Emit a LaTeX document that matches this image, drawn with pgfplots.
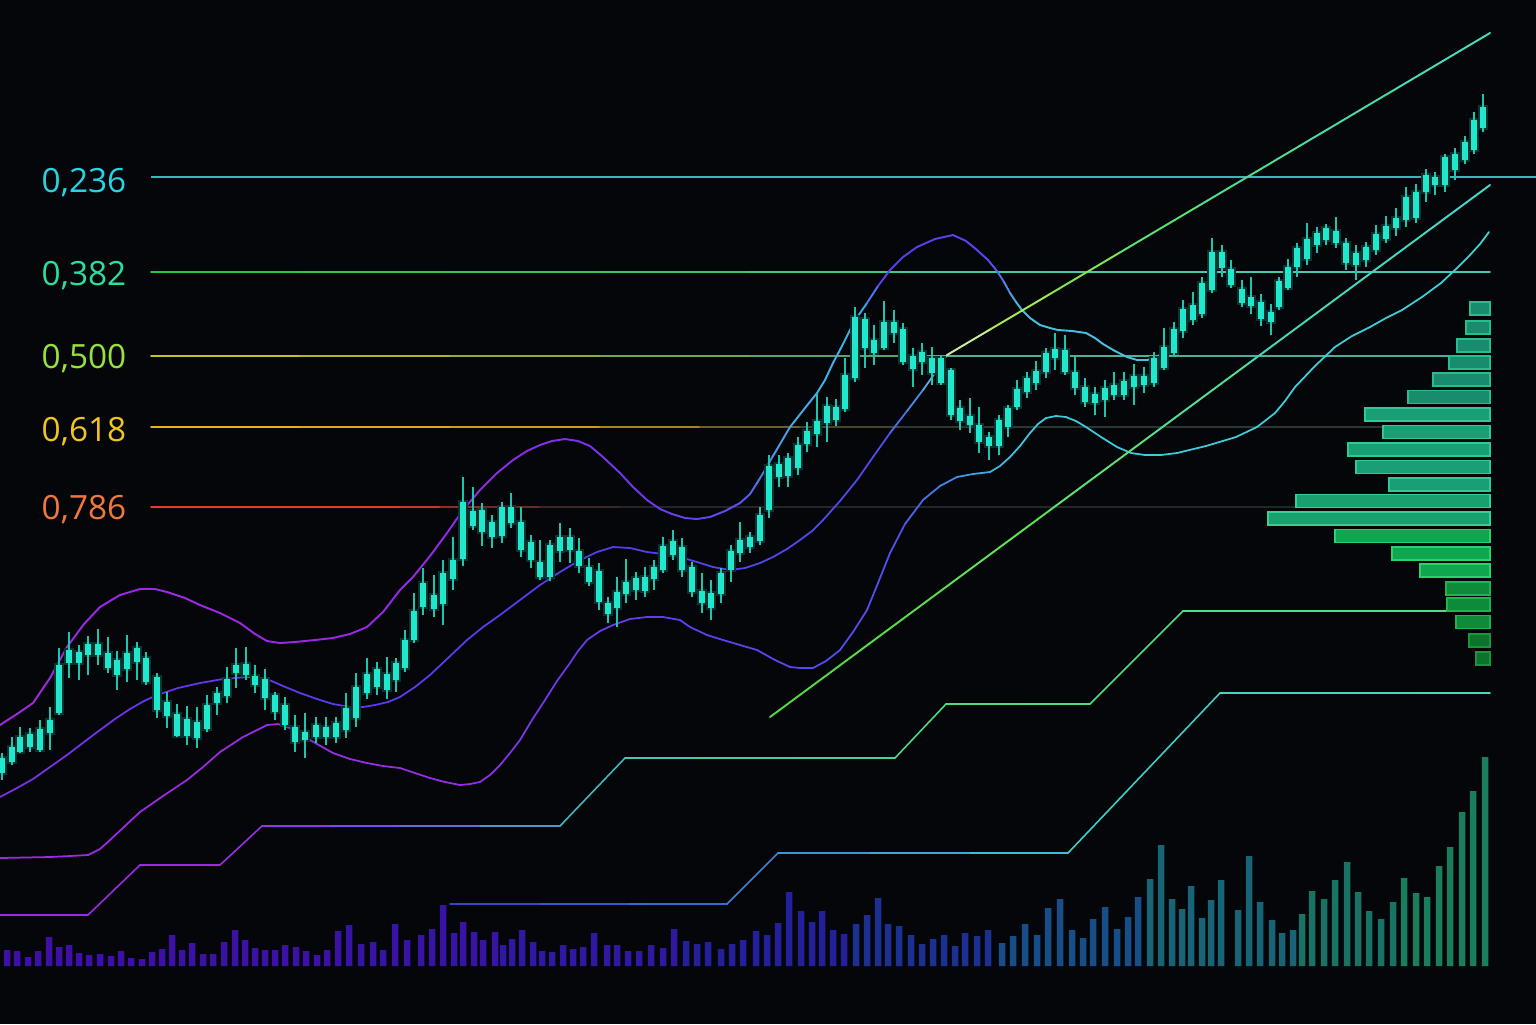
\documentclass[border=0pt]{standalone}
\usepackage{fontspec}
\setmainfont{Open Sans}
\usepackage{pgfplots}
\usepackage{pgfplotstable}
\pgfplotsset{compat=1.18}

\definecolor{bg}{RGB}{4,6,9}
\definecolor{candle}{RGB}{32,232,205}
\definecolor{l236}{RGB}{40,210,230}
\definecolor{l382}{RGB}{40,222,160}
\definecolor{l500}{RGB}{150,225,60}
\definecolor{l618}{RGB}{240,195,30}
\definecolor{l786}{RGB}{240,120,60}

% colour ramps along x (pixel columns 0..1536)
\pgfplotsset{
  colormap={upperband}{rgb255(0pt)=(160,40,225) rgb255(450pt)=(150,40,230) rgb255(650pt)=(110,55,235) rgb255(740pt)=(90,80,240) rgb255(790pt)=(70,170,230) rgb255(860pt)=(60,180,230) rgb255(885pt)=(85,60,240) rgb255(990pt)=(85,70,240) rgb255(1020pt)=(70,190,225) rgb255(1536pt)=(70,210,215)},
  colormap={midband}{rgb255(0pt)=(130,45,230) rgb255(200pt)=(100,55,240) rgb255(600pt)=(85,60,240) rgb255(880pt)=(80,75,240) rgb255(920pt)=(70,150,235) rgb255(947pt)=(130,210,230) rgb255(1536pt)=(130,210,230)},
  colormap={lowerband}{rgb255(0pt)=(160,40,225) rgb255(460pt)=(150,45,230) rgb255(560pt)=(110,55,235) rgb255(700pt)=(90,65,240) rgb255(900pt)=(80,80,240) rgb255(970pt)=(60,160,230) rgb255(1020pt)=(60,200,225) rgb255(1536pt)=(60,210,210)},
  colormap={uptrend}{rgb255(0pt)=(220,240,200) rgb255(947pt)=(220,240,200) rgb255(1000pt)=(180,235,90) rgb255(1060pt)=(150,230,70) rgb255(1150pt)=(90,225,110) rgb255(1300pt)=(70,220,160) rgb255(1536pt)=(70,220,200)},
  colormap={lowtrend}{rgb255(0pt)=(80,215,60) rgb255(770pt)=(80,215,60) rgb255(1000pt)=(95,225,85) rgb255(1150pt)=(90,225,130) rgb255(1300pt)=(70,215,180) rgb255(1536pt)=(70,215,210)},
  colormap={stepa}{rgb255(0pt)=(160,40,225) rgb255(262pt)=(150,45,230) rgb255(400pt)=(110,90,230) rgb255(560pt)=(60,170,215) rgb255(625pt)=(60,200,180) rgb255(895pt)=(70,215,150) rgb255(946pt)=(80,220,120) rgb255(1536pt)=(90,220,130)},
  colormap={stepb}{rgb255(0pt)=(50,60,200) rgb255(450pt)=(50,60,200) rgb255(727pt)=(50,120,215) rgb255(778pt)=(55,140,220) rgb255(1068pt)=(60,200,215) rgb255(1220pt)=(60,215,190) rgb255(1536pt)=(70,220,180)},
  colormap={fibb}{rgb255(0pt)=(35,200,55) rgb255(151pt)=(35,200,55) rgb255(700pt)=(55,200,100) rgb255(950pt)=(70,200,160) rgb255(1536pt)=(70,200,190)},
  colormap={fibc}{rgb255(0pt)=(210,200,40) rgb255(151pt)=(210,200,40) rgb255(450pt)=(160,175,50) rgb255(800pt)=(90,160,100) rgb255(950pt)=(85,175,150) rgb255(1536pt)=(80,170,160)},
  colormap={fibd}{rgb255(0pt)=(235,185,30) rgb255(151pt)=(235,185,30) rgb255(600pt)=(200,150,40) rgb255(800pt)=(80,75,40) rgb255(1000pt)=(40,55,48) rgb255(1536pt)=(40,55,48)},
  colormap={fibe}{rgb255(0pt)=(225,60,50) rgb255(400pt)=(225,60,50) rgb255(470pt)=(120,50,40) rgb255(620pt)=(35,38,38) rgb255(1536pt)=(32,38,38)},
  chartbox/.style={width=15.36cm, height=10.24cm, scale only axis,
    xmin=0, xmax=1536, axis line style={draw=none}, ticks=none, clip=true},
  ramp/.style={mesh, point meta=x, colormap name=#1, line cap=round, line join=round},
  candlebar/.style 2 args={draw=none, mark=none, forget plot,
    error bars/.cd, y dir=both, y explicit, error mark=none,
    error bar style={draw=#1, line width=#2}},
}

% candles: x, body top, body bottom, wick top, wick bottom (pixel rows)
\pgfplotstableread{
x bt bb wt wb
2 758 773 753 780
12 747 762 737 765
20 737 752 727 753
30 734 747 728 752
40 729 750 720 752
50 720 733 707 750
59 665 713 648 715
69 650 663 632 678
79 652 663 645 680
88 644 655 636 675
98 644 655 629 665
108 653 668 637 673
117 660 675 651 690
127 653 669 635 682
137 648 662 642 680
146 658 682 652 685
157 677 710 673 718
167 702 716 692 728
177 714 736 704 737
187 719 736 706 745
197 722 738 707 748
207 705 729 695 732
217 693 703 687 715
227 679 696 667 703
236 665 673 648 688
246 664 675 647 680
255 676 685 665 693
265 679 698 669 710
275 695 712 692 720
285 705 725 697 730
295 727 742 715 752
305 732 740 713 758
316 725 737 717 743
326 727 737 717 745
336 723 737 717 743
346 708 730 693 738
356 687 718 673 727
367 674 693 658 699
377 669 687 662 695
387 674 690 657 699
396 663 680 658 692
405 640 668 630 672
414 611 640 593 643
423 583 607 568 615
434 595 609 575 617
443 573 604 560 625
453 560 579 537 590
463 502 559 477 566
473 511 526 487 530
482 510 532 503 546
492 522 537 515 548
502 507 536 502 543
511 507 523 493 528
521 522 550 507 557
531 542 560 535 568
540 562 577 540 580
550 545 577 540 581
560 537 551 523 562
570 537 550 528 563
579 551 566 538 573
589 567 582 558 586
599 571 602 563 610
608 603 614 597 623
617 592 608 577 627
626 582 594 559 603
636 578 590 572 600
645 577 591 567 597
654 567 579 560 590
663 546 570 537 573
673 541 555 530 560
682 547 570 538 577
692 567 592 562 597
702 591 603 573 613
711 593 608 580 620
721 573 594 568 603
731 551 570 545 582
740 540 553 522 562
750 537 547 532 553
760 515 541 507 545
769 466 510 455 518
779 464 477 455 487
788 458 476 453 487
798 445 468 437 475
807 431 444 422 452
817 421 434 393 447
827 406 423 397 442
836 407 420 399 426
845 375 409 358 412
855 317 378 307 382
865 319 348 313 368
874 340 353 325 365
884 322 348 301 350
894 322 333 310 343
903 329 362 323 365
913 356 369 348 387
922 352 362 343 375
932 358 373 347 385
941 358 383 355 385
951 370 415 368 420
960 408 421 400 430
970 416 425 398 433
979 425 442 407 453
989 437 446 432 460
999 420 446 415 455
1008 408 427 405 437
1017 389 407 380 410
1027 378 392 372 398
1036 371 383 361 390
1046 353 372 348 378
1055 349 358 333 370
1065 350 372 335 375
1075 372 388 357 395
1085 387 402 378 407
1095 394 403 387 415
1105 388 400 380 417
1114 385 395 372 400
1124 381 395 372 400
1134 376 387 364 405
1144 376 385 367 393
1154 358 383 352 387
1164 347 368 328 370
1174 329 353 322 357
1183 309 331 300 338
1193 305 320 292 325
1202 283 314 277 318
1212 252 290 238 293
1222 252 268 245 277
1231 269 285 260 288
1242 289 303 280 307
1251 297 306 277 314
1261 302 319 294 326
1271 312 322 304 335
1279 281 307 277 310
1288 267 288 259 290
1297 248 267 243 277
1307 239 259 223 265
1317 233 245 227 253
1326 228 240 224 245
1336 231 243 217 248
1346 243 263 238 270
1356 253 265 245 280
1366 247 260 242 267
1376 234 250 225 255
1386 226 239 216 243
1396 218 228 208 236
1406 197 220 187 227
1416 192 218 184 223
1426 175 192 169 202
1435 177 185 172 195
1445 157 185 154 192
1455 154 170 148 180
1465 142 160 136 164
1474 120 150 112 154
1483 107 128 94 132
}\candles

% volume bars: x, height above the base line (pixels)
\pgfplotstableread{
x h
7 16
17 15
28 9
38 15
49 29
59 19
69 21
79 13
89 11
100 12
111 10
121 15
131 8
142 7
152 14
162 17
172 31
182 16
192 23
203 12
213 12
224 24
235 36
245 26
255 18
265 16
275 16
285 21
296 19
306 15
317 11
327 16
338 35
349 41
361 22
373 24
383 16
395 42
407 26
421 31
432 37
443 61
454 33
463 44
474 34
483 26
495 34
503 21
512 27
522 36
533 24
542 15
552 14
563 21
573 17
583 19
594 33
607 21
617 21
628 15
639 15
651 21
663 18
674 37
686 25
697 22
708 24
721 17
732 22
743 26
756 35
767 31
778 43
789 74
801 55
812 44
822 55
833 36
844 32
856 42
867 51
878 68
888 42
899 40
911 31
922 22
933 27
944 31
955 20
965 33
977 30
988 36
1002 23
1013 30
1025 42
1037 31
1048 58
1060 67
1072 36
1083 28
1093 47
1105 59
1117 37
1128 49
1138 69
1150 87
1161 121
1172 67
1182 57
1191 80
1202 48
1211 66
1221 86
1238 56
1249 110
1260 64
1272 46
1282 33
1293 36
1302 52
1312 75
1324 67
1335 86
1347 104
1358 74
1369 55
1381 47
1393 64
1404 88
1416 73
1427 69
1439 100
1450 119
1462 154
1473 175
1485 209
}\volume

% volume profile: bar length (pixels, leftwards from x=1490), row centre
\pgfplotstableread{
len y
20 308.5
24 327.5
33 345.5
41 362.5
57 379.5
82 397
125 414.5
107 432
142 449.5
134 467
101 484.5
194 501
222 518.5
155 536
98 553.5
70 570.5
44 588.5
43 604.5
34 622
21 640.5
14 658.5
}\profile

\begin{document}
\begin{tikzpicture}
% ---------- price panel ----------
\begin{axis}[chartbox, ymin=0, ymax=1024, y dir=reverse,
  axis background/.style={fill=bg},
  point meta min=0, point meta max=1536]

% fibonacci levels
\addplot[color={rgb,255:red,55;green,185;blue,185}, line width=0.4pt] coordinates {(151,177) (1536,177)};
\addplot[ramp=fibb, line width=0.5pt] coordinates {(151,272) (300,272) (450,272) (600,272) (750,272) (900,272) (1050,272) (1200,272) (1350,272) (1490,272)};
\addplot[ramp=fibc, line width=0.45pt] coordinates {(151,356) (300,356) (450,356) (600,356) (750,356) (900,356) (1050,356) (1200,356) (1350,356) (1490,356)};
\addplot[ramp=fibd, line width=0.5pt] coordinates {(151,427) (300,427) (450,427) (600,427) (700,427) (800,427) (900,427) (1050,427) (1200,427) (1490,427)};
\addplot[ramp=fibe, line width=0.55pt] coordinates {(151,507) (300,507) (400,507) (440,507) (480,507) (540,507) (620,507) (900,507) (1200,507) (1490,507)};

% stepped levels
\addplot[ramp=stepa, line width=0.45pt] coordinates {(0,915) (88,915) (140,865) (220,865) (262,826) (330,826) (400,826) (480,826) (560,826) (625,758) (700,758) (800,758) (895,758) (946,704) (1020,704) (1090,704) (1183,611) (1280,611) (1380,611) (1490,611)};
\addplot[ramp=stepb, line width=0.45pt] coordinates {(450,904) (540,904) (630,904) (727,904) (778,853) (870,853) (970,853) (1068,853) (1220,693) (1320,693) (1420,693) (1490,693)};

% bands
\addplot[ramp=upperband, line width=0.55pt] coordinates {(0,725) (17,714) (33,703) (50,678) (67,647) (84,624) (100,607) (120,595) (140,589) (155,589) (167,592) (185,598) (200,605) (220,613) (240,623) (255,634) (267,641) (280,643) (295,642) (315,640) (333,638) (350,634) (367,627) (383,612) (400,590) (413,577) (430,556) (447,533) (463,510) (480,490) (497,473) (513,460) (527,451) (540,445) (552,441) (565,439) (578,441) (590,446) (603,457) (620,473) (633,487) (647,500) (660,509) (672,514) (685,518) (697,519) (710,517) (725,511) (740,503) (750,494) (757,483) (765,470) (773,456) (790,427) (805,408) (817,393) (825,380) (833,363) (842,346) (850,330) (858,316) (867,303) (878,286) (890,270) (903,257) (917,247) (935,239) (953,235) (966,241) (977,250) (988,260) (997,271) (1004,282) (1010,293) (1016,302) (1022,310) (1030,318) (1040,325) (1050,328) (1058,330) (1072,331) (1086,333) (1095,338) (1103,344) (1115,351) (1127,357) (1137,360) (1147,360) (1155,358) (1163,353) (1170,347) (1175,343)};
\addplot[ramp=midband, line width=0.5pt] coordinates {(0,797) (17,788) (33,779) (50,767) (67,755) (84,742) (100,730) (115,719) (130,709) (144,701) (157,695) (178,688) (200,683) (223,679) (247,677) (257,677) (267,679) (283,686) (300,693) (317,699) (333,704) (350,707) (363,707) (375,705) (388,702) (400,697) (415,687) (430,675) (448,658) (467,640) (483,627) (500,615) (520,600) (540,585) (560,572) (580,560) (597,552) (613,547) (630,548) (647,552) (663,554) (680,557) (697,562) (713,567) (730,570) (745,568) (760,563) (773,557) (787,549) (800,540) (812,531) (823,520) (840,501) (857,480) (873,457) (890,433) (907,411) (923,390) (935,373) (947,355)};
\addplot[ramp=lowerband, line width=0.5pt] coordinates {(0,858) (25,857.5) (50,857) (70,856) (88,855) (100,849) (110,840) (125,826) (140,812) (163,796) (187,780) (203,767) (220,752) (243,737) (267,725) (278,724) (290,728) (310,740) (333,753) (350,759) (367,763) (383,766) (400,768) (415,773) (430,778) (445,782) (460,785) (470,784) (480,782) (490,775) (500,765) (510,753) (520,740) (532,720) (545,700) (557,681) (570,663) (578,651) (587,640) (600,631) (613,625) (630,619) (647,617) (663,617) (680,620) (690,627) (707,635) (723,640) (740,645) (757,650) (775,660) (790,667) (800,668) (813,668) (826,661) (840,650) (853,632) (867,610) (878,583) (890,553) (905,524) (923,500) (940,486) (957,477) (973,474) (990,472) (1000,466) (1010,457) (1020,446) (1030,433) (1038,424) (1046,418) (1056,416) (1066,417) (1076,421) (1086,427) (1101,437) (1117,447) (1131,453) (1145,455) (1161,455) (1177,453) (1206,446) (1236,437) (1257,427) (1275,413) (1285,401) (1295,387) (1315,366) (1335,347) (1352,336) (1370,327) (1386,318) (1402,310) (1422,297) (1441,283) (1456,269) (1470,255) (1480,244) (1489,232)};

% trend lines
\addplot[ramp=uptrend, line width=0.55pt] coordinates {(947,355) (990,329.5) (1050,294) (1120,252.4) (1200,205) (1300,145.7) (1400,86.4) (1490,33)};
\addplot[ramp=lowtrend, line width=0.55pt] coordinates {(770,717) (850,657.9) (950,584) (1050,510.1) (1150,436.2) (1250,362.3) (1350,288.4) (1430,229.3) (1490,185)};

% candles: glow, wicks, bodies
\addplot[candlebar={candle!20!bg}{2.8pt}]
  table[x=x, y expr={(\thisrow{bt}+\thisrow{bb})/2}, y error expr={(\thisrow{bb}-\thisrow{bt})/2+2}] {\candles};
\addplot[candlebar={candle!85!black}{0.42pt}]
  table[x=x, y expr={(\thisrow{wt}+\thisrow{wb})/2}, y error expr={(\thisrow{wb}-\thisrow{wt})/2}] {\candles};
\addplot[candlebar={candle}{1.45pt}]
  table[x=x, y expr={(\thisrow{bt}+\thisrow{bb})/2}, y error expr={(\thisrow{bb}-\thisrow{bt})/2}] {\candles};

% level labels
\node[text=l236, font=\fontsize{9.5}{11}\selectfont] at (axis cs:84,183) {0,236};
\node[text=l382, font=\fontsize{9.5}{11}\selectfont] at (axis cs:84,276) {0,382};
\node[text=l500, font=\fontsize{9.5}{11}\selectfont] at (axis cs:84,359) {0,500};
\node[text=l618, font=\fontsize{9.5}{11}\selectfont] at (axis cs:84,432) {0,618};
\node[text=l786, font=\fontsize{9.5}{11}\selectfont] at (axis cs:84,510) {0,786};
\end{axis}

% ---------- volume bars ----------
\begin{axis}[chartbox, ymin=-58, ymax=966]
\addplot[ybar, bar width=6.5, bar shift=0pt, draw=none, fill={rgb,255:red,62;green,16;blue,165}, restrict x to domain=0:170] table[x=x, y=h] {\volume};
\addplot[ybar, bar width=6.5, bar shift=0pt, draw=none, fill={rgb,255:red,60;green,18;blue,165}, restrict x to domain=170:340] table[x=x, y=h] {\volume};
\addplot[ybar, bar width=6.5, bar shift=0pt, draw=none, fill={rgb,255:red,56;green,20;blue,165}, restrict x to domain=340:500] table[x=x, y=h] {\volume};
\addplot[ybar, bar width=6.5, bar shift=0pt, draw=none, fill={rgb,255:red,48;green,24;blue,160}, restrict x to domain=500:680] table[x=x, y=h] {\volume};
\addplot[ybar, bar width=6.5, bar shift=0pt, draw=none, fill={rgb,255:red,36;green,32;blue,155}, restrict x to domain=680:850] table[x=x, y=h] {\volume};
\addplot[ybar, bar width=6.5, bar shift=0pt, draw=none, fill={rgb,255:red,28;green,48;blue,145}, restrict x to domain=850:995] table[x=x, y=h] {\volume};
\addplot[ybar, bar width=6.5, bar shift=0pt, draw=none, fill={rgb,255:red,24;green,78;blue,135}, restrict x to domain=995:1145] table[x=x, y=h] {\volume};
\addplot[ybar, bar width=6.5, bar shift=0pt, draw=none, fill={rgb,255:red,24;green,100;blue,118}, restrict x to domain=1145:1300] table[x=x, y=h] {\volume};
\addplot[ybar, bar width=6.5, bar shift=0pt, draw=none, fill={rgb,255:red,24;green,115;blue,100}, restrict x to domain=1300:1400] table[x=x, y=h] {\volume};
\addplot[ybar, bar width=6.5, bar shift=0pt, draw=none, fill={rgb,255:red,26;green,125;blue,92}, restrict x to domain=1400:1536] table[x=x, y=h] {\volume};
\end{axis}

% ---------- volume profile ----------
\begin{axis}[chartbox, xmin=-46, xmax=1490, x dir=reverse, ymin=0, ymax=1024, y dir=reverse]
\addplot[xbar, bar width=13, bar shift=0pt, line width=0.3pt, draw={rgb,255:red,40;green,190;blue,140}, fill={rgb,255:red,24;green,140;blue,108}, restrict y to domain=300:402] table[x=len, y=y] {\profile};
\addplot[xbar, bar width=13, bar shift=0pt, line width=0.3pt, draw={rgb,255:red,50;green,200;blue,150}, fill={rgb,255:red,26;green,158;blue,118}, restrict y to domain=405:490] table[x=len, y=y] {\profile};
\addplot[xbar, bar width=13, bar shift=0pt, line width=0.3pt, draw={rgb,255:red,50;green,210;blue,150}, fill={rgb,255:red,24;green,160;blue,110}, restrict y to domain=495:525] table[x=len, y=y] {\profile};
\addplot[xbar, bar width=13, bar shift=0pt, line width=0.3pt, draw={rgb,255:red,40;green,210;blue,110}, fill={rgb,255:red,16;green,165;blue,78}, restrict y to domain=530:575] table[x=len, y=y] {\profile};
\addplot[xbar, bar width=13, bar shift=0pt, line width=0.3pt, draw={rgb,255:red,30;green,180;blue,80}, fill={rgb,255:red,14;green,138;blue,58}, restrict y to domain=580:625] table[x=len, y=y] {\profile};
\addplot[xbar, bar width=13, bar shift=0pt, line width=0.3pt, draw={rgb,255:red,25;green,150;blue,60}, fill={rgb,255:red,12;green,115;blue,45}, restrict y to domain=630:670] table[x=len, y=y] {\profile};
\end{axis}
\pgfresetboundingbox
\useasboundingbox (0,0) rectangle (15.36cm,10.24cm);
\end{tikzpicture}
\end{document}
